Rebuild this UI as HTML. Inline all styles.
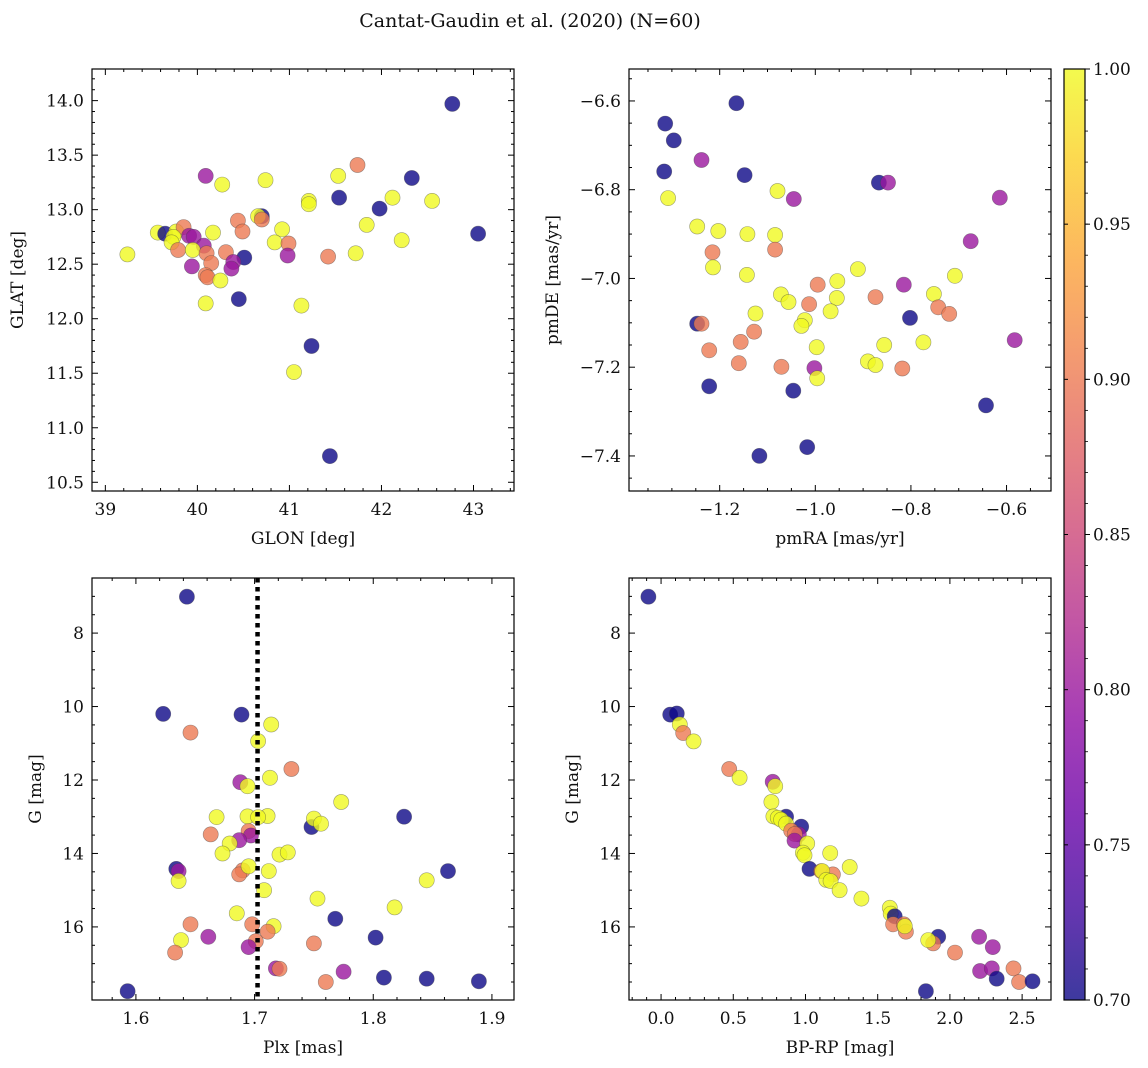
<!DOCTYPE html>
<html><head><meta charset="utf-8"><style>
html,body{margin:0;padding:0;background:#fff;}
svg{display:block;font-family:"DejaVu Serif","Liberation Serif",serif;}
</style></head><body>
<svg id="fig" width="1148" height="1068" viewBox="0 0 1148 1068">
<text x="530" y="27" text-anchor="middle" font-size="19" fill="#111">Cantat-Gaudin et al. (2020) (N=60)</text>
</svg>
<script>
// probabilities: B=0.70 P=0.80 O=0.90 Y=1.00
const glon=[42.77,40.09,40.27,40.74,41.74,41.53,42.33,41.54,42.12,42.55,41.21,41.21,41.98,40.70,40.66,40.70,40.44,41.84,40.49,40.92,43.05,39.57,39.65,39.77,39.85,39.74,39.91,39.96,40.17,39.72,39.79,40.07,39.95,40.84,40.99,42.22,40.10,40.31,40.51,40.98,41.42,41.72,39.24,40.15,40.39,39.94,40.37,40.09,40.11,40.25,40.45,40.09,41.13,41.24,41.05,41.44];
const glat=[13.97,13.31,13.23,13.27,13.41,13.31,13.29,13.11,13.11,13.08,13.08,13.05,13.01,12.94,12.94,12.91,12.90,12.86,12.80,12.82,12.78,12.79,12.78,12.80,12.84,12.75,12.76,12.75,12.79,12.70,12.63,12.67,12.63,12.70,12.69,12.72,12.60,12.61,12.56,12.58,12.57,12.60,12.59,12.51,12.52,12.48,12.46,12.40,12.38,12.35,12.18,12.14,12.12,11.75,11.51,10.74];
const probA=[0.70,0.80,1,1,0.90,1,0.70,0.70,1,1,1,1,0.70,0.70,1,0.90,0.90,1,0.90,1,0.70,1,0.70,1,0.90,1,0.80,0.80,1,1,0.90,0.80,1,1,0.90,1,0.90,0.90,0.70,0.80,0.90,1,1,0.90,0.80,0.80,0.80,0.90,0.90,1,0.70,1,1,0.70,1,0.70];
const pmra=[-1.165,-1.314,-1.296,-1.238,-1.316,-1.148,-0.867,-0.848,-1.079,-1.045,-1.308,-0.614,-1.247,-1.203,-1.142,-1.084,-1.084,-1.215,-0.675,-1.214,-1.143,-0.911,-0.708,-0.995,-0.954,-0.815,-1.072,-1.056,-0.955,-0.874,-0.752,-1.013,-0.743,-0.720,-1.125,-0.968,-1.022,-1.029,-0.802,-1.247,-1.238,-1.128,-1.156,-1.222,-0.997,-0.856,-0.774,-1.160,-1.071,-0.890,-0.874,-0.818,-1.002,-0.996,-1.222,-1.046,-0.643,-0.583,-1.017,-1.117];
const pmde=[-6.605,-6.651,-6.689,-6.733,-6.759,-6.767,-6.784,-6.784,-6.803,-6.821,-6.819,-6.818,-6.883,-6.893,-6.900,-6.902,-6.935,-6.941,-6.916,-6.975,-6.992,-6.979,-6.994,-7.014,-7.006,-7.014,-7.036,-7.053,-7.044,-7.042,-7.035,-7.058,-7.065,-7.080,-7.079,-7.074,-7.094,-7.107,-7.089,-7.102,-7.102,-7.120,-7.143,-7.162,-7.155,-7.150,-7.144,-7.191,-7.199,-7.187,-7.195,-7.203,-7.202,-7.225,-7.243,-7.253,-7.286,-7.139,-7.380,-7.400];
const probB=[0.70,0.70,0.70,0.80,0.70,0.70,0.70,0.80,1,0.80,1,0.80,1,1,1,1,0.90,0.90,0.80,1,1,1,1,0.90,1,0.80,1,1,1,0.90,1,0.90,0.90,0.90,1,1,1,1,0.70,0.70,0.90,0.90,0.90,0.90,1,1,1,0.90,0.90,1,1,0.90,0.80,1,0.70,0.70,0.70,0.80,0.70,0.70];
const plx=[1.643,1.623,1.689,1.714,1.646,1.703,1.731,1.688,1.694,1.713,1.773,1.826,1.668,1.694,1.711,1.703,1.748,1.750,1.756,1.663,1.695,1.697,1.687,1.679,1.673,1.721,1.728,1.634,1.636,1.636,1.690,1.687,1.695,1.712,1.863,1.845,1.708,1.753,1.818,1.685,1.768,1.646,1.698,1.716,1.711,1.661,1.802,1.638,1.701,1.695,1.750,1.633,1.718,1.721,1.775,1.809,1.845,1.889,1.760,1.593];
const gmagC=[7.01,10.20,10.22,10.49,10.71,10.94,11.70,12.06,12.17,11.94,12.60,13.00,13.01,12.99,12.98,13.01,13.28,13.05,13.19,13.48,13.39,13.51,13.64,13.73,14.00,14.03,13.97,14.42,14.48,14.75,14.46,14.57,14.35,14.48,14.48,14.73,15.00,15.23,15.47,15.63,15.78,15.93,15.93,15.98,16.13,16.27,16.29,16.36,16.39,16.55,16.45,16.70,17.13,17.14,17.22,17.38,17.41,17.48,17.50,17.75];
const probC=[0.70,0.70,0.70,1,0.90,1,0.90,0.80,1,1,1,0.70,1,1,1,1,0.70,1,1,0.90,0.90,0.80,0.80,1,1,1,1,0.70,0.80,1,0.90,0.90,1,1,0.70,1,1,1,1,1,0.70,0.90,0.90,1,0.90,0.80,0.70,1,0.90,0.80,0.90,0.90,0.80,0.90,0.80,0.70,0.70,0.70,0.90,0.70];
const bprp=[-0.088,0.063,0.109,0.130,0.153,0.225,0.472,0.544,0.773,0.790,0.764,0.866,0.778,0.808,0.831,0.866,0.970,0.901,0.954,0.926,0.924,1.012,0.982,0.993,1.171,1.306,1.028,1.109,1.190,1.116,1.144,1.174,1.236,1.387,1.584,1.590,1.618,1.607,1.681,1.695,1.688,1.919,1.884,1.850,2.035,2.202,2.297,2.209,2.290,2.324,2.440,2.479,2.572,1.834];
const gmagD=[7.01,10.22,10.19,10.49,10.72,10.95,11.70,11.94,12.05,12.17,12.60,13.00,12.99,13.03,13.08,13.19,13.27,13.38,13.48,13.47,13.65,13.73,13.98,14.05,13.99,14.37,14.42,14.48,14.57,14.48,14.72,14.75,15.00,15.23,15.48,15.64,15.71,15.93,15.93,16.13,15.98,16.27,16.45,16.36,16.70,16.27,16.55,17.20,17.13,17.41,17.13,17.50,17.48,17.75];
const probD=[0.70,0.70,0.70,1,0.90,1,0.90,1,0.80,1,1,0.70,1,1,1,1,0.70,0.90,0.80,0.90,0.80,1,1,1,1,1,0.70,0.90,0.90,1,1,1,1,1,1,1,0.70,0.90,0.90,0.90,1,0.70,0.90,1,0.90,0.80,0.80,0.80,0.80,0.70,0.90,0.90,0.70,0.70];
const cbTicks=[0.70,0.75,0.80,0.85,0.90,0.95,1.00];
const plxLine=1.7025;

const NS='http://www.w3.org/2000/svg';
const svg=document.getElementById('fig');
function mk(tag,attrs,parent){const e=document.createElementNS(NS,tag);for(const k in attrs)e.setAttribute(k,attrs[k]);(parent||svg).appendChild(e);return e;}
const stops=[[0,'#0d0887'],[0.1,'#41049d'],[0.2,'#6a00a8'],[0.3,'#8f0da4'],[0.4,'#b12a90'],[0.5,'#cc4778'],[0.6,'#e16462'],[0.7,'#f2844b'],[0.8,'#fca636'],[0.9,'#fcce25'],[1,'#f0f921']];
function hex(h){return [1,3,5].map(i=>parseInt(h.substr(i,2),16));}
function plasma(t){t=Math.max(0,Math.min(1,t));for(let i=1;i<stops.length;i++){if(t<=stops[i][0]){const a=stops[i-1],b=stops[i];const f=(t-a[0])/(b[0]-a[0]);const ca=hex(a[1]),cb=hex(b[1]);return 'rgb('+ca.map((v,j)=>Math.round(v+(cb[j]-v)*f)).join(',')+')';}}return stops[10][1];}
function fmt(v,d){const s=Math.abs(v).toFixed(d);return (v<0?'\u2212':'')+s;}

function panel(o){
  const g=mk('g',{});
  
  
  const X=v=>o.x0+(v-o.xmin)/(o.xmax-o.xmin)*o.w;
  const Y=o.yinv?(v=>o.y0+(v-o.ymin)/(o.ymax-o.ymin)*o.h):(v=>o.y0+(o.ymax-v)/(o.ymax-o.ymin)*o.h);
  const pg=mk('g',{},g);
  
  
  for(let i=0;i<o.xs.length;i++){
    const c=mk('circle',{cx:X(o.xs[i]).toFixed(1),cy:Y(o.ys[i]).toFixed(1),r:7.6,fill:plasma((o.cs[i]-0.7)/0.3),'fill-opacity':0.8,stroke:'#444','stroke-opacity':0.5,'stroke-width':0.6},pg);
    
    
  }
  if(o.vline!==undefined){
    const l=mk('line',{x1:X(o.vline),x2:X(o.vline),y1:o.y0,y2:o.y0+o.h,stroke:'#000','stroke-width':4.5,'stroke-dasharray':'4.5 4.5'},g);
    
    
  }
  const f=mk('rect',{x:o.x0,y:o.y0,width:o.w,height:o.h,fill:'none',stroke:'#000','stroke-width':1.2},g);
  
  
  const tk=mk('g',{stroke:'#000','stroke-width':1},g);
  const eps=1e-9;
  function xt(v,len){const x=X(v);mk('line',{x1:x,x2:x,y1:o.y0+o.h,y2:o.y0+o.h-len},tk);mk('line',{x1:x,x2:x,y1:o.y0,y2:o.y0+len},tk);}
  function yt(v,len){const y=Y(v);mk('line',{x1:o.x0,x2:o.x0+len,y1:y,y2:y},tk);mk('line',{x1:o.x0+o.w,x2:o.x0+o.w-len,y1:y,y2:y},tk);}
  for(let v=Math.ceil(o.xmin/o.xminor-eps)*o.xminor;v<=o.xmax+eps;v+=o.xminor){
    const isMaj=Math.abs(v/o.xmajor-Math.round(v/o.xmajor))<1e-6;xt(v,isMaj?6:3);
    if(isMaj){const t=mk('text',{x:X(v),y:o.y0+o.h+24,'text-anchor':'middle','font-size':17,fill:'#111'},g);t.textContent=fmt(Math.round(v/o.xmajor)*o.xmajor,o.xd);
      }
  }
  for(let v=Math.ceil(o.ymin/o.yminor-eps)*o.yminor;v<=o.ymax+eps;v+=o.yminor){
    const isMaj=Math.abs(v/o.ymajor-Math.round(v/o.ymajor))<1e-6;yt(v,isMaj?6:3);
    if(isMaj){const t=mk('text',{x:o.x0-8,y:Y(v)+6,'text-anchor':'end','font-size':17,fill:'#111'},g);t.textContent=fmt(Math.round(v/o.ymajor)*o.ymajor,o.yd);
      }
  }
  const xl=mk('text',{x:o.x0+o.w/2,y:o.y0+o.h+53,'text-anchor':'middle','font-size':17,fill:'#111'},g);
  xl.textContent=o.xlabel;
  
  
  const yl=mk('text',{x:0,y:0,'text-anchor':'middle','font-size':17,fill:'#111',transform:'translate('+o.ylx+','+(o.y0+o.h/2)+') rotate(-90)'},g);
  yl.textContent=o.ylabel;
  
  
}
panel({name:'glon-glat-panel',x0:92,y0:69,w:422,h:422,xmin:38.855,xmax:43.44,ymin:10.42,ymax:14.29,xmajor:1,xminor:0.2,ymajor:0.5,yminor:0.1,xd:0,yd:1,xs:glon,ys:glat,cs:probA,xlabel:'GLON [deg]',ylabel:'GLAT [deg]',ylx:23});
panel({name:'proper-motion-panel',x0:629,y0:69,w:422,h:422,xmin:-1.3897,xmax:-0.507,ymin:-7.479,ymax:-6.528,xmajor:0.2,xminor:0.05,ymajor:0.2,yminor:0.05,xd:1,yd:1,xs:pmra,ys:pmde,cs:probB,xlabel:'pmRA [mas/yr]',ylabel:'pmDE [mas/yr]',ylx:558});
panel({name:'parallax-magnitude-panel',x0:92,y0:578,w:422,h:422,xmin:1.563,xmax:1.9186,ymin:6.5,ymax:17.99,yinv:true,xmajor:0.1,xminor:0.02,ymajor:2,yminor:0.5,xd:1,yd:0,xs:plx,ys:gmagC,cs:probC,xlabel:'Plx [mas]',ylabel:'G [mag]',ylx:41,vline:plxLine});
panel({name:'color-magnitude-panel',x0:629,y0:578,w:422,h:422,xmin:-0.222,xmax:2.70,ymin:6.5,ymax:17.99,yinv:true,xmajor:0.5,xminor:0.1,ymajor:2,yminor:0.5,xd:1,yd:0,xs:bprp,ys:gmagD,cs:probD,xlabel:'BP-RP [mag]',ylabel:'G [mag]',ylx:578});

const defs=mk('defs',{});
const lg=mk('linearGradient',{id:'plasmaG',x1:0,y1:1,x2:0,y2:0},defs);
stops.forEach(s=>mk('stop',{offset:s[0],'stop-color':s[1],'stop-opacity':0.8},lg));
const cbg=mk('g',{});


mk('rect',{x:1064,y:69,width:21,height:931,fill:'url(#plasmaG)'},cbg);
mk('rect',{x:1064,y:69,width:21,height:931,fill:'none',stroke:'#000','stroke-width':1.2},cbg);
cbTicks.forEach(v=>{
  const y=1000-(v-0.7)/0.3*931;
  mk('line',{x1:1085,x2:1090,y1:y,y2:y,stroke:'#000','stroke-width':1},cbg);
  mk('line',{x1:1064,x2:1068,y1:y,y2:y,stroke:'#000','stroke-width':1},cbg);
  const t=mk('text',{x:1093,y:y+6,'font-size':17,fill:'#111'},cbg);
  t.textContent=v.toFixed(2);
  
  
});
for(let v=0.71;v<1.0;v+=0.01){const y=1000-(v-0.7)/0.3*931;mk('line',{x1:1085,x2:1088,y1:y,y2:y,stroke:'#000','stroke-width':0.8},cbg);}
</script>
</body></html>
